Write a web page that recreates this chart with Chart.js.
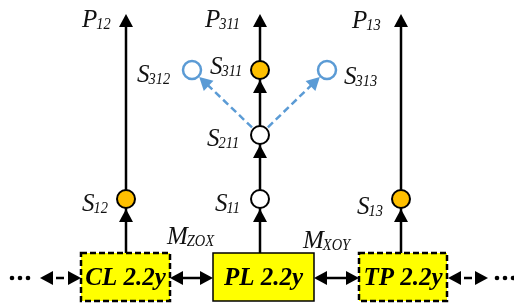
<!DOCTYPE html>
<html>
<head>
<meta charset="utf-8">
<script src="https://cdn.jsdelivr.net/npm/chart.js@4"></script>
<style>
html,body{margin:0;padding:0;background:#fff;overflow:hidden}
</style>
</head>
<body>
<canvas id="c" width="514" height="303"></canvas>
<script>
// ---- diagram data (units of the x / y scales) ----
const columnX = [126, 260, 401];
const stemTipY = 14;
const boxTopY = 253;
const boxBottomY = 301;

const nodeNames = ['S12', 'S11', 'S211', 'S311', 'S13', 'S312', 'S313'];
const nodeX = [126, 260, 260, 260, 401, 192, 327];
const nodeY = [199, 199, 135, 70, 199, 70, 70];
const nodeKind = ['full', 'open', 'open', 'full', 'full', 'blue', 'blue'];

// nodes that get a black arrow into their bottom
const arrowIntoNodes = [0, 1, 2, 3, 4];
// blue dashed transitions: [from, to]
const blueEdges = [[2, 5], [2, 6]];

const boxLabels = ['CL 2.2y', 'PL 2.2y', 'TP 2.2y'];
const boxLeft = [81, 213, 359];
const boxRight = [170, 314, 447];
const boxDashed = [true, false, true];

const linkY = 278;
const linkFrom = [40, 170, 314, 448];
const linkTo = [81, 213, 359, 488];
const linkDashed = [true, false, false, true];

const dotsX = [12, 20, 28, 497, 505, 513];

const labelMain = ['P', 'P', 'P', 'S', 'S', 'S', 'S', 'S', 'S', 'S', 'M', 'M'];
const labelSub = ['12', '311', '13', '312', '311', '313', '211', '12', '11', '13', 'ZOX', 'XOY'];
const labelX = [82, 205, 352, 137, 210, 344, 207, 82, 215, 357, 167, 303];
const labelY = [27, 27, 28, 82, 74, 84, 146, 211, 211, 214, 244, 248];

const SERIF = '"Liberation Serif", "Times New Roman", serif';
const BLACK = '#000';
const BLUE = '#5B9BD5';
const ORANGE = '#FFC000';
const YELLOW = '#FFFF00';
const NODE_R = 9;
const HEAD_LEN = 13, HEAD_W = 14;

// ---- datasets ----
const datasets = [];

columnX.forEach(x => {
  datasets.push({
    data: [{x, y: boxTopY}, {x, y: stemTipY + 8}],
    showLine: true, borderColor: BLACK, borderWidth: 2.5, pointRadius: 0, order: 2
  });
});

function unit(ax, ay, bx, by) {
  const dx = bx - ax, dy = by - ay, l = Math.hypot(dx, dy);
  return [dx / l, dy / l];
}

blueEdges.forEach(([a, b]) => {
  const [ux, uy] = unit(nodeX[a], nodeY[a], nodeX[b], nodeY[b]);
  const tipX = nodeX[b] - ux * (NODE_R + 1), tipY = nodeY[b] - uy * (NODE_R + 1);
  datasets.push({
    data: [{x: nodeX[a], y: nodeY[a]}, {x: tipX - ux * 8, y: tipY - uy * 8}],
    showLine: true, borderColor: BLUE, borderWidth: 2.5, borderDash: [7, 4],
    pointRadius: 0, order: 2
  });
});

linkFrom.forEach((x0, i) => {
  datasets.push({
    data: [{x: x0 + HEAD_LEN - 1, y: linkY}, {x: linkTo[i] - HEAD_LEN + 1, y: linkY}],
    showLine: true, borderColor: BLACK, borderWidth: 2.5,
    borderDash: linkDashed[i] ? [8, 4] : [], borderDashOffset: linkDashed[i] ? 8 : 0,
    pointRadius: 0, order: 2
  });
});

datasets.push({
  label: 'nodes',
  data: nodeNames.map((n, i) => ({x: nodeX[i], y: nodeY[i]})),
  showLine: false,
  pointRadius: NODE_R,
  pointBorderWidth: nodeKind.map(k => k === 'blue' ? 2.5 : 2),
  pointBackgroundColor: nodeKind.map(k => k === 'full' ? ORANGE : '#fff'),
  pointBorderColor: nodeKind.map(k => k === 'blue' ? BLUE : BLACK),
  order: 0
});

datasets.push({
  data: dotsX.map(x => ({x, y: linkY})),
  showLine: false, pointRadius: 2.3, pointBackgroundColor: BLACK, pointBorderWidth: 0, order: 0
});

// ---- drawing helpers ----
function head(ctx, tx, ty, ux, uy, color) {
  const bx = tx - ux * HEAD_LEN, by = ty - uy * HEAD_LEN;
  const px = -uy * HEAD_W / 2, py = ux * HEAD_W / 2;
  ctx.fillStyle = color;
  ctx.beginPath();
  ctx.moveTo(tx, ty);
  ctx.lineTo(bx + px, by + py);
  ctx.lineTo(bx - px, by - py);
  ctx.closePath();
  ctx.fill();
}

function label(ctx, main, sub, x, y) {
  ctx.fillStyle = '#111';
  ctx.textAlign = 'left';
  ctx.textBaseline = 'alphabetic';
  ctx.font = 'italic 25px ' + SERIF;
  ctx.fillText(main, x, y);
  const w = ctx.measureText(main).width;
  ctx.save();
  ctx.translate(x + w - 1, y + 2);
  ctx.scale(0.85, 1);
  ctx.font = 'italic 17px ' + SERIF;
  ctx.fillText(sub, 0, 0);
  ctx.restore();
}

const diagramPlugin = {
  id: 'diagram',
  beforeDatasetsDraw(chart) {
    const {ctx, scales: {x, y}} = chart;
    ctx.save();
    boxLabels.forEach((t, i) => {
      const l = x.getPixelForValue(boxLeft[i]), r = x.getPixelForValue(boxRight[i]);
      const tp = y.getPixelForValue(boxTopY), bt = y.getPixelForValue(boxBottomY);
      ctx.fillStyle = YELLOW;
      ctx.fillRect(l, tp, r - l, bt - tp);
      ctx.strokeStyle = BLACK;
      ctx.lineWidth = boxDashed[i] ? 2.5 : 1.5;
      ctx.setLineDash(boxDashed[i] ? [6, 3] : []);
      ctx.strokeRect(l, tp, r - l, bt - tp);
    });
    ctx.restore();
  },
  afterDatasetsDraw(chart) {
    const {ctx, scales: {x, y}} = chart;
    ctx.save();
    // stem tips
    columnX.forEach(cx => head(ctx, x.getPixelForValue(cx), y.getPixelForValue(stemTipY), 0, -1, BLACK));
    // arrows into nodes from below
    arrowIntoNodes.forEach(i =>
      head(ctx, x.getPixelForValue(nodeX[i]), y.getPixelForValue(nodeY[i] + NODE_R + 1), 0, -1, BLACK));
    // blue heads
    blueEdges.forEach(([a, b]) => {
      const [ux, uy] = unit(nodeX[a], nodeY[a], nodeX[b], nodeY[b]);
      const tx = nodeX[b] - ux * (NODE_R + 1), ty = nodeY[b] - uy * (NODE_R + 1);
      head(ctx, x.getPixelForValue(tx), y.getPixelForValue(ty), ux, uy, BLUE);
    });
    // double-headed links
    linkFrom.forEach((x0, i) => {
      const py = y.getPixelForValue(linkY);
      head(ctx, x.getPixelForValue(x0), py, -1, 0, BLACK);
      head(ctx, x.getPixelForValue(linkTo[i]), py, 1, 0, BLACK);
    });
    // box texts
    ctx.fillStyle = '#000';
    ctx.font = 'italic bold 25px ' + SERIF;
    ctx.textAlign = 'center';
    ctx.textBaseline = 'middle';
    boxLabels.forEach((t, i) => {
      ctx.fillText(t, x.getPixelForValue((boxLeft[i] + boxRight[i]) / 2), y.getPixelForValue(linkY + 1));
    });
    // node / port labels
    labelMain.forEach((m, i) =>
      label(ctx, m, labelSub[i], x.getPixelForValue(labelX[i]), y.getPixelForValue(labelY[i])));
    ctx.restore();
  }
};

new Chart(document.getElementById('c'), {
  type: 'scatter',
  data: {datasets},
  options: {
    responsive: false,
    devicePixelRatio: 1,
    animation: false,
    events: [],
    layout: {padding: 0, autoPadding: false},
    plugins: {legend: {display: false}, tooltip: {enabled: false}},
    scales: {
      x: {type: 'linear', min: 0, max: 514, display: false},
      y: {type: 'linear', min: 0, max: 303, reverse: true, display: false}
    }
  },
  plugins: [diagramPlugin]
});
</script>
</body>
</html>
